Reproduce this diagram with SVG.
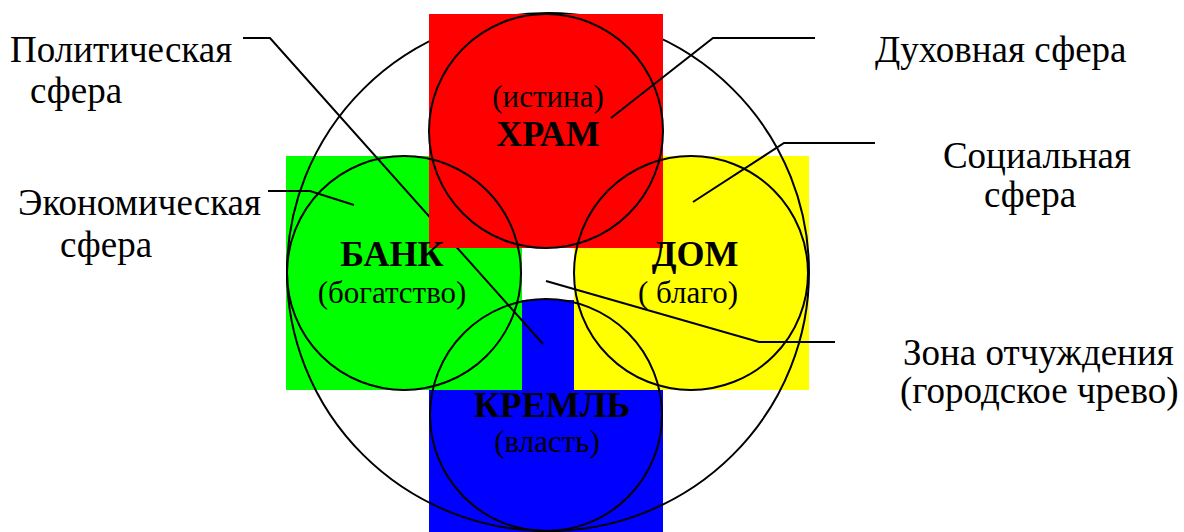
<svg xmlns="http://www.w3.org/2000/svg" width="1184" height="532" viewBox="0 0 1184 532">
<style>
.ln{fill:none;stroke:#000;stroke-width:2}
.c{fill:none;stroke:#000;stroke-width:2}
.lbl{font-family:"Liberation Serif","Times New Roman",serif;font-size:37px;fill:#000}
.sub{font-family:"Liberation Serif","Times New Roman",serif;font-size:31px;fill:#000;text-anchor:middle}
.big{font-family:"Liberation Serif","Times New Roman",serif;font-size:36px;font-weight:bold;fill:#000;text-anchor:middle}
</style>
<rect width="1184" height="532" fill="#fff"/>
<g id="kreml-rect"><rect x="429" y="300" width="234" height="232" fill="#0000ff"/></g>
<g id="bank-rect"><rect x="286" y="156" width="236" height="234" fill="#00ff00"/></g>
<g id="dom-rect"><rect x="574" y="156" width="235" height="234" fill="#ffff00"/></g>
<g id="outer"><ellipse cx="548" cy="272" rx="261" ry="259" class="c"/></g>
<g id="connectors-under"><polyline class="ln" points="243,38 270,38 543,344"/></g>
<g id="hram-rect"><rect x="429" y="14" width="234" height="234" fill="#ff0000"/></g>
<g id="connectors">
<polyline class="ln" points="815,38 713,38 611,118"/>
<polyline class="ln" points="875,143 784,143 693,202"/>
<polyline class="ln" points="268,191 310,191 354,205"/>
<polyline class="ln" points="546,281 759,342 835,342"/>
</g>
<g id="hram"><circle cx="546" cy="131" r="117" class="c"/>
<text class="sub" x="548" y="107">(истина)</text>
<text class="big" x="548" y="146">ХРАМ</text></g>
<g id="bank"><circle cx="404" cy="273" r="117" class="c"/>
<text class="big" x="392" y="266">БАНК</text>
<text class="sub" x="392" y="303">(богатство)</text></g>
<g id="dom"><circle cx="691" cy="273" r="117" class="c"/>
<text class="big" x="695" y="266">ДОМ</text>
<text class="sub" x="688" y="303">( благо)</text></g>
<g id="kreml"><circle cx="546" cy="415" r="116" class="c"/>
<text class="big" x="552" y="417">КРЕМЛЬ</text>
<text class="sub" x="547" y="452">(власть)</text></g>
<g id="labels">
<text class="lbl" x="10" y="62">Политическая</text>
<text class="lbl" x="30" y="103">сфера</text>
<text class="lbl" x="18" y="215">Экономическая</text>
<text class="lbl" x="60" y="257">сфера</text>
<text class="lbl" x="875" y="62">Духовная сфера</text>
<text class="lbl" x="1037" y="168" text-anchor="middle">Социальная</text>
<text class="lbl" x="1030" y="207" text-anchor="middle">сфера</text>
<text class="lbl" x="903" y="365">Зона отчуждения</text>
<text class="lbl" x="900" y="403">(городское чрево)</text>
</g>
</svg>
